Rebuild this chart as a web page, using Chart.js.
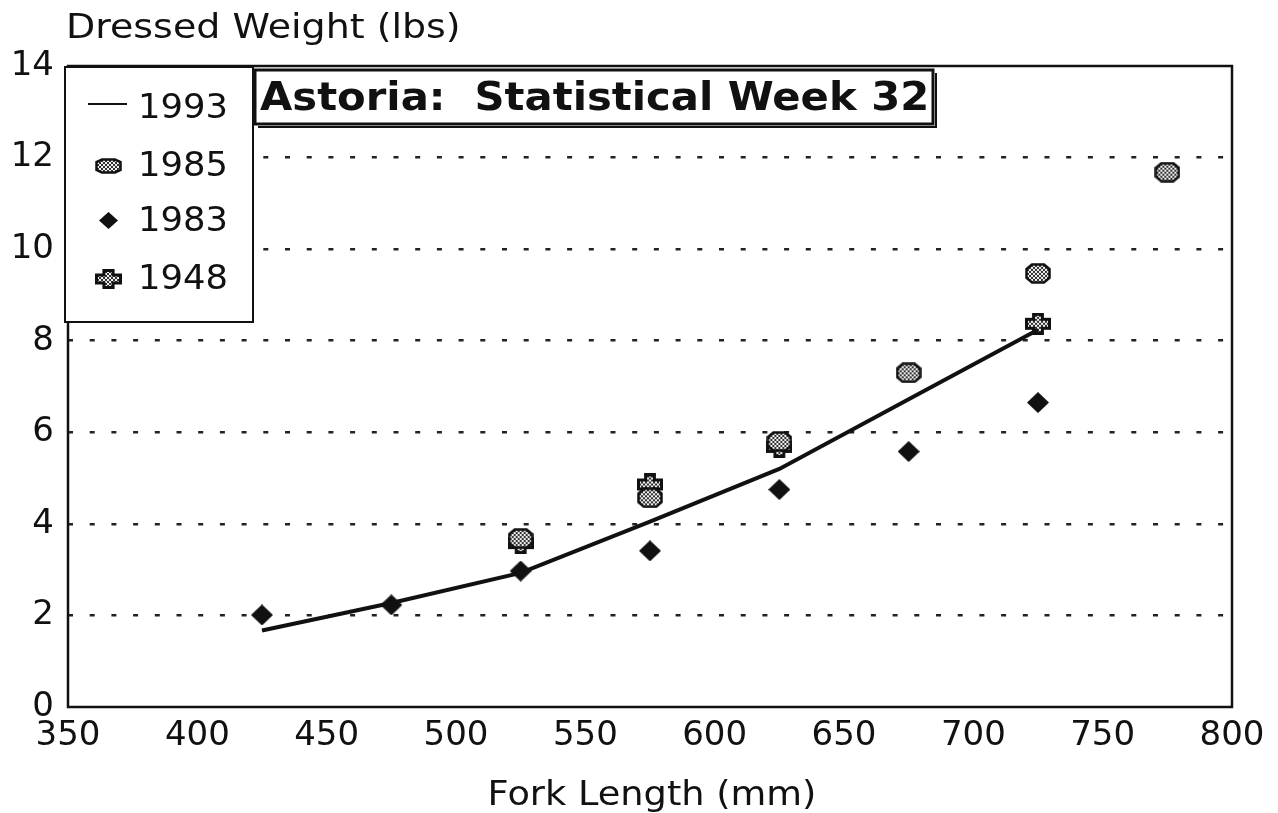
<!DOCTYPE html>
<html>
<head>
<meta charset="utf-8">
<script src="https://cdn.jsdelivr.net/npm/chart.js@4.4.1/dist/chart.umd.min.js"></script>
<style>
  body { margin: 0; background: #fff; }
  #wrap { width: 1278px; height: 813px; }
</style>
</head>
<body>
<div id="wrap"><canvas id="chart" width="1278" height="813"></canvas></div>
<script>
// valeurs
var xTicks = [350, 400, 450, 500, 550, 600, 650, 700, 750, 800];
var yTicks = [0, 2, 4, 6, 8, 10, 12, 14];

var len1993 = [425, 475, 525, 575, 625, 675, 725];
var wt1993 = [1.67, 2.27, 2.93, 4.05, 5.2, 6.72, 8.24];

var len1985 = [525, 575, 625, 675, 725, 775];
var wt1985 = [3.68, 4.57, 5.8, 7.3, 9.47, 11.68];

var len1983 = [425, 475, 525, 575, 625, 675, 725];
var wt1983 = [2.01, 2.23, 2.97, 3.41, 4.75, 5.58, 6.65];

var len1948 = [525, 575, 625, 725];
var wt1948 = [3.58, 4.86, 5.68, 8.37];

var FONT = "'DejaVu Sans', 'Liberation Sans', sans-serif";
var INK = '#111';

function pts(xs, ys) {
    return xs.map(function (x, i) { return { x: x, y: ys[i] }; });
}

// texte élargi horizontalement (le scan d'origine est étiré)
function wideText(c, str, x, y, sx, align) {
    c.save();
    c.translate(x, y);
    c.scale(sx, 1);
    c.textAlign = align || 'left';
    c.fillText(str, 0, 0);
    c.restore();
}

// motif pointillé gris
var tile = document.createElement('canvas');
tile.width = 4; tile.height = 4;
var tc = tile.getContext('2d');
tc.fillStyle = '#f0f0f0'; tc.fillRect(0, 0, 4, 4);
tc.fillStyle = '#333';
tc.fillRect(0, 0, 2, 2); tc.fillRect(2, 2, 2, 2);

function hatch(c) { return c.createPattern(tile, 'repeat'); }

function makeOct(w, h) {
    var cv = document.createElement('canvas');
    cv.width = w; cv.height = h;
    var c = cv.getContext('2d');
    var k = Math.round(w * 0.25), m = Math.round(h * 0.28), l = 1.5;
    c.beginPath();
    c.moveTo(k, l); c.lineTo(w - k, l); c.lineTo(w - l, m); c.lineTo(w - l, h - m);
    c.lineTo(w - k, h - l); c.lineTo(k, h - l); c.lineTo(l, h - m); c.lineTo(l, m);
    c.closePath();
    c.fillStyle = hatch(c); c.fill();
    c.lineWidth = 2.5; c.strokeStyle = INK; c.stroke();
    return cv;
}

function makeDiamond(w, h) {
    var cv = document.createElement('canvas');
    cv.width = w; cv.height = h;
    var c = cv.getContext('2d');
    c.beginPath();
    c.moveTo(w / 2, 0); c.lineTo(w, h / 2); c.lineTo(w / 2, h); c.lineTo(0, h / 2);
    c.closePath();
    c.fillStyle = INK; c.fill();
    return cv;
}

function makePlus(w, h) {
    var cv = document.createElement('canvas');
    cv.width = w; cv.height = h;
    var c = cv.getContext('2d');
    var ax = w * 0.33, ay = h * 0.3, l = 1.5;
    c.beginPath();
    c.moveTo(ax, l); c.lineTo(w - ax, l); c.lineTo(w - ax, ay); c.lineTo(w - l, ay);
    c.lineTo(w - l, h - ay); c.lineTo(w - ax, h - ay); c.lineTo(w - ax, h - l);
    c.lineTo(ax, h - l); c.lineTo(ax, h - ay); c.lineTo(l, h - ay); c.lineTo(l, ay);
    c.lineTo(ax, ay); c.closePath();
    c.fillStyle = hatch(c); c.fill();
    c.lineWidth = 3; c.strokeStyle = INK; c.stroke();
    return cv;
}

var oct = makeOct(26, 21), dia = makeDiamond(22, 21), plus = makePlus(26, 22);
var octS = makeOct(27, 16), diaS = makeDiamond(19, 17), plusS = makePlus(27, 20);

var decor = {
    id: 'decor',
    beforeDatasetsDraw: function (chart) {
        var c = chart.ctx, a = chart.chartArea;
        c.save();
        c.strokeStyle = INK; c.lineWidth = 2.5;
        c.strokeRect(a.left, a.top, a.right - a.left, a.bottom - a.top);
        c.restore();
    },
    afterDraw: function (chart) {
        var c = chart.ctx, a = chart.chartArea;
        c.save();
        c.fillStyle = INK;
        c.textBaseline = 'alphabetic';
        c.font = '33px ' + FONT;
        wideText(c, 'Dressed Weight (lbs)', 66, 38, 1.15);
        c.font = '34px ' + FONT;
        wideText(c, 'Fork Length (mm)', (a.left + a.right) / 2 + 2, 805, 1.08, 'center');

        // titre encadré
        c.fillStyle = '#fff';
        c.fillRect(255, 70, 678, 54);
        c.strokeStyle = INK; c.lineWidth = 3;
        c.strokeRect(255, 70, 678, 54);
        c.lineWidth = 2;
        c.beginPath(); c.moveTo(258, 127); c.lineTo(936, 127); c.lineTo(936, 73); c.stroke();
        c.fillStyle = INK;
        c.font = 'bold 39px ' + FONT;
        wideText(c, 'Astoria:  Statistical Week 32', 260, 110, 1.07);

        // légende
        c.fillStyle = '#fff';
        c.fillRect(65, 67, 188, 255);
        c.strokeStyle = INK; c.lineWidth = 2;
        c.strokeRect(65, 67, 188, 255);
        var rows = [108, 166, 221, 279];
        var names = ['1993', '1985', '1983', '1948'];
        c.lineWidth = 2; c.beginPath(); c.moveTo(88, 104); c.lineTo(127, 104); c.stroke();
        c.drawImage(octS, 108 - 13, rows[1] - 8);
        c.drawImage(diaS, 108 - 9, rows[2] - 9);
        c.drawImage(plusS, 108 - 13, rows[3] - 10);
        c.fillStyle = INK;
        c.font = '34px ' + FONT;
        c.textBaseline = 'middle';
        names.forEach(function (n, i) { wideText(c, n, 138, rows[i] + 1, 1.04); });
        c.restore();
    }
};

new Chart(document.getElementById('chart'), {
    type: 'scatter',
    data: {
        datasets: [
            { label: '1993', data: pts(len1993, wt1993), showLine: true, borderColor: INK,
              borderWidth: 4, pointRadius: 0, tension: 0 },
            { label: '1985', data: pts(len1985, wt1985), pointStyle: oct },
            { label: '1983', data: pts(len1983, wt1983), pointStyle: dia },
            { label: '1948', data: pts(len1948, wt1948), pointStyle: plus }
        ]
    },
    options: {
        responsive: false,
        animation: false,
        devicePixelRatio: 1,
        layout: { padding: { top: 66, right: 46, left: 0, bottom: 0 } },
        plugins: { legend: { display: false }, tooltip: { enabled: false } },
        scales: {
            x: {
                type: 'linear', min: 350, max: 800,
                afterFit: function (s) { s.height = 106; },
                afterBuildTicks: function (s) { s.ticks = xTicks.map(function (v) { return { value: v }; }); },
                grid: { display: false, drawTicks: false },
                border: { display: false },
                ticks: { color: INK, padding: 9, maxRotation: 0, font: { family: FONT, size: 34 } }
            },
            y: {
                min: 0, max: 14,
                afterFit: function (s) { s.width = 68; },
                afterBuildTicks: function (s) { s.ticks = yTicks.map(function (v) { return { value: v }; }); },
                grid: {
                    drawTicks: false, lineWidth: 2.5,
                    color: function (ctx) {
                        var v = ctx.tick && ctx.tick.value;
                        return (v === 0 || v === 14) ? 'rgba(0,0,0,0)' : '#222';
                    }
                },
                border: { display: false, dash: [5, 16.7] },
                ticks: { color: INK, padding: 14, font: { family: FONT, size: 34 } }
            }
        }
    },
    plugins: [decor]
});
</script>
</body>
</html>
